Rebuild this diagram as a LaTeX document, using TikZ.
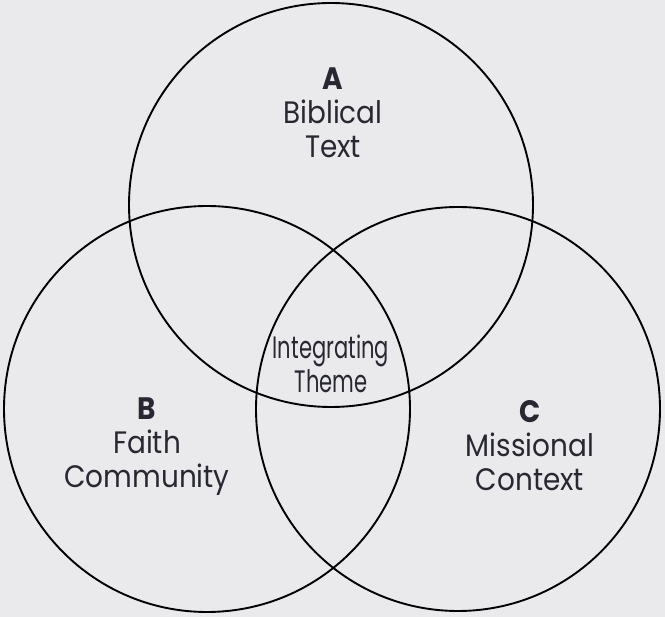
\documentclass[tikz,border=0pt]{standalone}
\usepackage{fontspec}
\setmainfont[FakeStretch=0.9]{Poppins}
\newfontfamily\condfont[FakeStretch=0.68]{Poppins}
\definecolor{paper}{RGB}{234,234,236}
\definecolor{ink}{RGB}{40,40,50}
\tikzset{
  ring/.style={draw=black,line width=1.9pt},
  lbl/.style={align=center,text=ink,inner sep=0pt,font=\fontsize{31}{34}\selectfont},
}
\begin{document}
\begin{tikzpicture}[x=1pt,y=-1pt,line join=round]
  \fill[paper] (0,0) rectangle (665,617);
  \useasboundingbox (0,0) rectangle (665,617);
  \coordinate (cA) at (331,205);
  \coordinate (cB) at (207,409);
  \coordinate (cC) at (458,409);
  \draw[ring] (cA) circle [radius=202];
  \draw[ring] (cB) circle [radius=203];
  \draw[ring] (cC) circle [radius=202];
  \node[lbl] (biblical) at (333,113) {\textbf{A}\\Biblical\\Text};
  \node[lbl] (faith) at (147,447) {\textbf{B}\\Faith\\Community};
  \node[lbl] (missional) at (530,446) {\textbf{C}\\Missional\\Context};
  \node[lbl,font=\condfont\fontsize{31}{34}\selectfont] (theme) at (331,364) {Integrating\\Theme};
\end{tikzpicture}
\end{document}
